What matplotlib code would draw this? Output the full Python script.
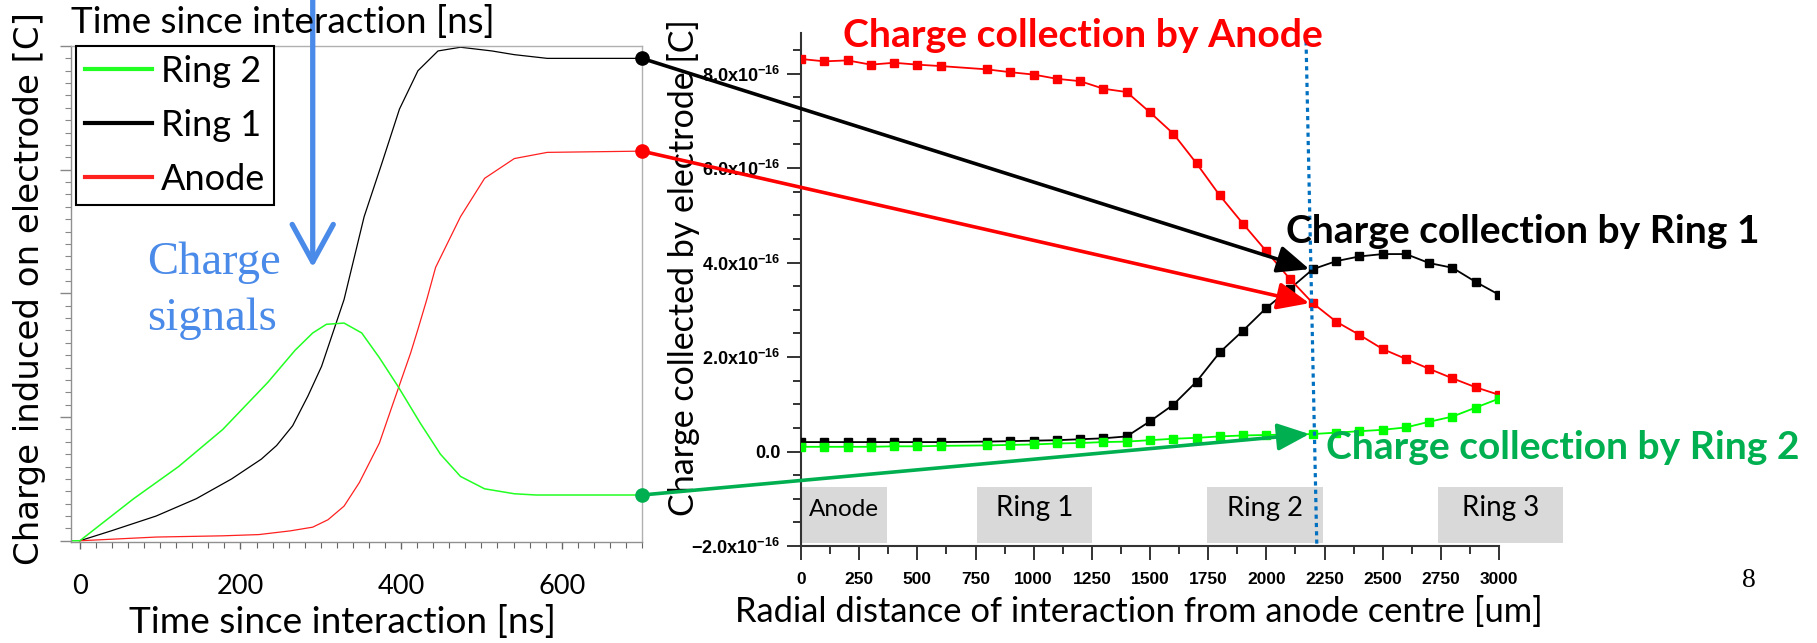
import matplotlib
matplotlib.use("Agg")
import matplotlib.pyplot as plt
from matplotlib.lines import Line2D
from matplotlib.patches import Rectangle, ConnectionPatch
from matplotlib.ticker import MultipleLocator, FuncFormatter

plt.rcParams['mathtext.fontset'] = 'custom'
plt.rcParams['mathtext.rm'] = 'Liberation Sans'
plt.rcParams['mathtext.bf'] = 'Liberation Sans:bold'
plt.rcParams['mathtext.default'] = 'bf'

# ---------------- data: left panel (charge signals, interaction at ~2200 um), units 1e-16 C
time_ring1 = [0, 39, 95, 145, 189, 226, 245, 265, 284, 301, 315, 329, 354, 376, 398, 421, 446, 474, 513, 541, 582, 700]
q_ring1 = [0, 0.08, 0.20, 0.34, 0.50, 0.66, 0.77, 0.93, 1.17, 1.41, 1.68, 1.95, 2.62, 3.05, 3.49, 3.80, 3.96, 3.99, 3.96, 3.93, 3.90, 3.90]

time_ring2 = [-20, 0, 67, 123, 178, 234, 268, 290, 307, 329, 351, 373, 396, 424, 449, 474, 504, 541, 568, 700]
q_ring2 = [0, 0, 0.34, 0.60, 0.90, 1.28, 1.54, 1.68, 1.75, 1.76, 1.68, 1.48, 1.25, 0.95, 0.70, 0.52, 0.42, 0.38, 0.37, 0.37]

time_anode = [0, 95, 178, 223, 262, 290, 309, 329, 348, 373, 390, 412, 421, 432, 443, 474, 504, 541, 582, 700]
q_anode = [0, 0.03, 0.04, 0.05, 0.08, 0.11, 0.17, 0.28, 0.47, 0.79, 1.11, 1.52, 1.71, 1.95, 2.21, 2.62, 2.93, 3.09, 3.14, 3.15]

left_series = ['Ring 2', 'Ring 1', 'Anode']

# ---------------- data: right panel (collected charge vs radial distance), units 1e-16 C
radius = [0, 100, 200, 300, 400, 500, 600,
          800, 900, 1000, 1100, 1200, 1300, 1400,
          1500, 1600, 1700, 1800, 1900, 2000, 2100,
          2200, 2300, 2400, 2500, 2600, 2700, 2800, 2900, 3000]
coll_anode = [8.31, 8.26, 8.28, 8.19, 8.23, 8.19, 8.16,
              8.09, 8.03, 7.98, 7.89, 7.84, 7.68, 7.61,
              7.18, 6.73, 6.10, 5.42, 4.82, 4.24, 3.66,
              3.14, 2.75, 2.47, 2.17, 1.96, 1.75, 1.55, 1.36, 1.20]
coll_ring1 = [0.20, 0.20, 0.20, 0.20, 0.20, 0.20, 0.20,
              0.21, 0.22, 0.23, 0.24, 0.26, 0.28, 0.32,
              0.64, 0.99, 1.48, 2.10, 2.56, 3.04, 3.44,
              3.86, 4.03, 4.13, 4.18, 4.18, 3.99, 3.89, 3.59, 3.32]
coll_ring2 = [0.10, 0.10, 0.10, 0.10, 0.11, 0.11, 0.12,
              0.13, 0.14, 0.15, 0.17, 0.18, 0.20, 0.21,
              0.24, 0.27, 0.29, 0.32, 0.34, 0.35, 0.36,
              0.37, 0.40, 0.43, 0.46, 0.51, 0.63, 0.74, 0.93, 1.12]

electrode_names = ['Anode', 'Ring 1', 'Ring 2', 'Ring 3']
electrode_spans = [(0, 370), (755, 1250), (1745, 2245), (2738, 3275)]
interaction_radius = 2200
right_yticks = [-2, 0, 2, 4, 6, 8]
left_xticks = [0, 200, 400, 600]
right_xticks = [0, 250, 500, 750, 1000, 1250, 1500, 1750, 2000, 2250, 2500, 2750, 3000]

E = 1e-16
W, H, DPI = 1817, 643, 100
CAL = 'Lato'

fig = plt.figure(figsize=(W / DPI, H / DPI), dpi=DPI)
fig.patch.set_facecolor('white')


def fx(px):
    return px / W


def fy(py):
    return 1 - py / H


# ================= left axes
axL = fig.add_axes([fx(71), fy(542), (642 - 71) / W, (542 - 46) / H])
GRN, BLK, RED = '#22ff22', 'black', '#ff2020'
lR1, = axL.plot(time_ring1, [v * E for v in q_ring1], color=BLK, lw=0.9)
lAn, = axL.plot(time_anode, [v * E for v in q_anode], color=RED, lw=0.9)
lR2, = axL.plot(time_ring2, [v * E for v in q_ring2], color=GRN, lw=1.1)
axL.set_xlim(-11, 700)
axL.set_ylim(-0.01 * E, 4.0 * E)
axL.set_xticks(left_xticks)
axL.xaxis.set_minor_locator(MultipleLocator(20))
axL.yaxis.set_major_locator(MultipleLocator(1 * E))
axL.yaxis.set_minor_locator(MultipleLocator(0.1 * E))
axL.tick_params(axis='y', which='both', direction='out', labelleft=False, color='#888888')
axL.tick_params(axis='y', which='major', length=8, width=1)
axL.tick_params(axis='y', which='minor', length=4, width=0.8)
axL.tick_params(axis='x', which='major', direction='out', length=5, width=1, color='#666666',
                labelsize=19.5, pad=18)
axL.tick_params(axis='x', which='minor', direction='out', length=4, width=0.8, color='#666666')
for lab in axL.get_xticklabels():
    lab.set_family(CAL)
for s in ['top', 'right']:
    axL.spines[s].set_color('#b0b0b0')
    axL.spines[s].set_linewidth(1)
for s in ['left', 'bottom']:
    axL.spines[s].set_color('#909090')
    axL.spines[s].set_linewidth(1)

handles = [Line2D([], [], color=GRN, lw=3), Line2D([], [], color=BLK, lw=3), Line2D([], [], color=RED, lw=3)]
leg = axL.legend(handles, left_series, loc='upper left', bbox_to_anchor=(0.009, 1.0), borderaxespad=0,
                 fancybox=False, edgecolor='black', framealpha=1, prop={'family': CAL, 'size': 26},
                 handlelength=1.85, handletextpad=0.25, labelspacing=0.58, borderpad=0.25)
leg.get_frame().set_linewidth(1.5)

# right axes
axR = fig.add_axes([fx(801), fy(546), (1499 - 801) / W, (546 - 33) / H])

# end-point dots and arrows to right panel
i_int = radius.index(interaction_radius)
for tvals, qvals, rvals, col in [(time_ring1, q_ring1, coll_ring1, 'black'),
                                  (time_anode, q_anode, coll_anode, '#ff0000'),
                                  (time_ring2, q_ring2, coll_ring2, '#00b050')]:
    axL.plot(tvals[-1], qvals[-1] * E, 'o', ms=9.5, color=col, clip_on=False, zorder=10)
    con = ConnectionPatch(xyA=(tvals[-1], qvals[-1] * E), coordsA=axL.transData,
                          xyB=(interaction_radius - 15, rvals[i_int] * E), coordsB=axR.transData,
                          arrowstyle='-|>,head_length=0.98,head_width=0.42', mutation_scale=20,
                          lw=2.6, color=col, shrinkA=0, shrinkB=0, zorder=20)
    fig.add_artist(con)

# blue arrow and "Charge signals"
BLUE = '#4a8ae8'
axL.annotate('', xy=(290, 2.21 * E), xytext=(290, 4.4 * E), annotation_clip=False,
             arrowprops=dict(arrowstyle='->,head_length=1.35,head_width=0.74', mutation_scale=20,
                             lw=3.8, color=BLUE, shrinkA=0, shrinkB=0))

# ================= right axes
axR.plot(radius, [v * E for v in coll_ring1], color='black', lw=1.3, marker='s', ms=6.2, zorder=3)
axR.plot(radius, [v * E for v in coll_anode], color='#ff0000', lw=1.3, marker='s', ms=6.2, zorder=4)
axR.plot(radius, [v * E for v in coll_ring2], color='#00ff00', lw=1.3, marker='s', ms=6.2, zorder=5)
axR.set_xlim(0, 3000)
axR.set_ylim(-2 * E, 8.86 * E)
axR.set_xticks(right_xticks)
axR.xaxis.set_minor_locator(MultipleLocator(125))
axR.set_yticks([v * E for v in right_yticks])
axR.yaxis.set_minor_locator(MultipleLocator(0.5 * E))


def yfmt(v, pos):
    m = v / E
    if abs(m) < 1e-9:
        return '0.0'
    return r'$%.1fx10^{-16}$' % m


axR.yaxis.set_major_formatter(FuncFormatter(yfmt))
for s in ['top', 'right']:
    axR.spines[s].set_visible(False)
for s in ['left', 'bottom']:
    axR.spines[s].set_color('#333333')
    axR.spines[s].set_linewidth(1.5)
axR.tick_params(which='both', direction='out', color='#333333', width=1.4)
axR.tick_params(which='major', length=10)
axR.tick_params(which='minor', length=5.5)
axR.tick_params(axis='x', which='major', pad=9, labelsize=12.5)
axR.tick_params(axis='y', which='major', pad=5, labelsize=13)
for lab in axR.get_xticklabels() + axR.get_yticklabels():
    lab.set_family('Liberation Sans')
    lab.set_fontweight('bold')

# electrode label boxes
for name, (a, b) in zip(electrode_names, electrode_spans):
    axR.add_patch(Rectangle((a, -1.93 * E), b - a, 1.18 * E, facecolor='#d9d9d9', edgecolor='none',
                            clip_on=False, zorder=1))
box_texts = []
for name, (a, b) in zip(electrode_names, electrode_spans):
    t = axR.text((a + b) / 2, -1.37 * E, name, ha='center', va='baseline', family=CAL,
                 fontsize=18, color='black', zorder=2, clip_on=False)
    box_texts.append(t)

# interaction position (dotted)
axR.plot([interaction_radius - 30, interaction_radius + 17], [8.86 * E, -2 * E], ls=(0, (1.3, 1.3)),
         lw=2.3, color='#0070c0', clip_on=False, zorder=6)

# ================= texts
texts = []
t = fig.text(fx(71), fy(33), 'Time since interaction [ns]', ha='left', va='baseline', family=CAL,
             fontsize=27); texts.append((t, 424))
t = fig.text(fx(342), fy(633), 'Time since interaction [ns]', ha='center', va='baseline', family=CAL,
             fontsize=27); texts.append((t, 427))
t = fig.text(fx(30), fy(289), 'Charge induced on electrode [C]', ha='center', va='center', rotation=90,
             family='DejaVu Sans', fontsize=22); texts.append((t, 552))
t = fig.text(fx(683), fy(268), 'Charge collected by electrode [C]', ha='center', va='center', rotation=90,
             family=CAL, fontsize=24); texts.append((t, 498))
t = fig.text(fx(1139), fy(622), 'Radial distance of interaction from anode centre [um]', ha='center',
             va='baseline', family=CAL, fontsize=25); texts.append((t, 809))
t = fig.text(fx(843), fy(47), 'Charge collection by Anode', ha='left', va='baseline', family=CAL,
             fontweight='bold', fontsize=27, color='#ff0000'); texts.append((t, 479))
t = fig.text(fx(1286), fy(243), 'Charge collection by Ring 1', ha='left', va='baseline', family=CAL,
             fontweight='bold', fontsize=27, color='black'); texts.append((t, 472))
t = fig.text(fx(1326), fy(459), 'Charge collection by Ring 2', ha='left', va='baseline', family=CAL,
             fontweight='bold', fontsize=27, color='#00b050'); texts.append((t, 473))
t = fig.text(fx(214), fy(274), 'Charge', ha='center', va='baseline', family='Liberation Serif',
             fontsize=33, color=BLUE); texts.append((t, 134))
t = fig.text(fx(212), fy(330), 'signals', ha='center', va='baseline', family='Liberation Serif',
             fontsize=33, color=BLUE); texts.append((t, 130))
fig.text(fx(1749), fy(587), '8', ha='center', va='baseline', family='Liberation Serif', fontsize=20)

for bt, w in zip(box_texts, [70, 77, 76, 77]):
    texts.append((bt, w))

fig.canvas.draw()
rend = fig.canvas.get_renderer()
for t, target in texts:
    bb = t.get_window_extent(rend)
    size = bb.height if t.get_rotation() else bb.width
    t.set_fontsize(t.get_fontsize() * target / size)

fig.savefig('out.png', dpi=DPI, facecolor='white')
